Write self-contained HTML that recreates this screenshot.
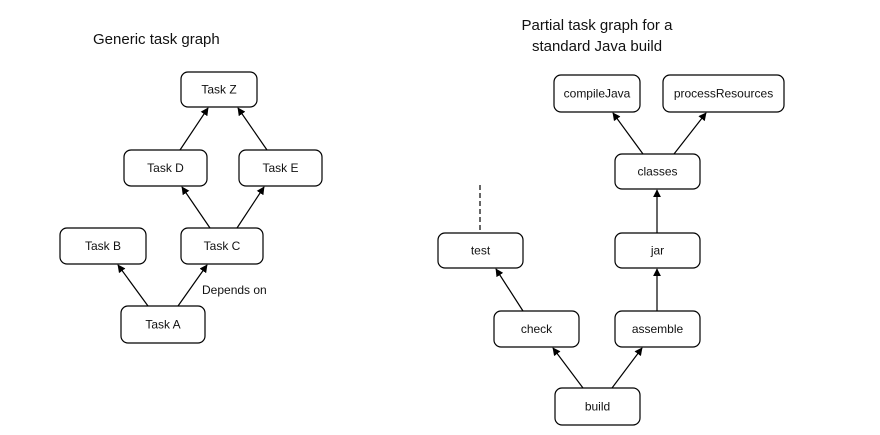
<!DOCTYPE html>
<html><head><meta charset="utf-8"><style>
body{margin:0;background:#fff;}
svg{display:block;font-family:"Liberation Sans",Arial,sans-serif;}
.n{fill:#fff;stroke:#000;stroke-width:1.2;}
.t{font-size:12px;text-anchor:middle;dominant-baseline:central;fill:#111;}
.h{font-size:15px;fill:#111;}
.e{stroke:#000;stroke-width:1.2;marker-end:url(#a);}
</style></head><body>
<svg width="880" height="435" viewBox="0 0 880 435">
<defs><marker id="a" viewBox="0 0 10 10" refX="9" refY="5" markerWidth="8" markerHeight="8" markerUnits="userSpaceOnUse" orient="auto"><path d="M0,0L10,5L0,10z" fill="#000"/></marker></defs>
<text class="h" x="93" y="44">Generic task graph</text>
<text class="h" x="597" y="30" text-anchor="middle">Partial task graph for a</text>
<text class="h" x="597" y="51" text-anchor="middle">standard Java build</text>

<rect class="n" x="181" y="72" width="76" height="35" rx="7"/><text class="t" x="219" y="89.5">Task Z</text>
<rect class="n" x="124" y="150" width="83" height="36" rx="7"/><text class="t" x="165.5" y="168">Task D</text>
<rect class="n" x="239" y="150" width="83" height="36" rx="7"/><text class="t" x="280.5" y="168">Task E</text>
<rect class="n" x="60" y="228" width="86" height="36" rx="7"/><text class="t" x="103" y="246">Task B</text>
<rect class="n" x="181" y="228" width="82" height="36" rx="7"/><text class="t" x="222" y="246">Task C</text>
<rect class="n" x="121" y="306" width="84" height="37" rx="7"/><text class="t" x="163" y="324.5">Task A</text>
<line class="e" x1="148" y1="306" x2="118" y2="265"/>
<line class="e" x1="178" y1="306" x2="207" y2="265"/>
<line class="e" x1="210" y1="228" x2="182" y2="187"/>
<line class="e" x1="237" y1="228" x2="264" y2="187"/>
<line class="e" x1="180" y1="150" x2="208" y2="108"/>
<line class="e" x1="267" y1="150" x2="238" y2="108"/>
<text x="202" y="294" font-size="12" fill="#111">Depends on</text>

<rect class="n" x="554" y="75" width="86" height="37" rx="7"/><text class="t" x="597" y="93.5">compileJava</text>
<rect class="n" x="663" y="75" width="121" height="37" rx="7"/><text class="t" x="723.5" y="93.5">processResources</text>
<rect class="n" x="615" y="154" width="85" height="35" rx="7"/><text class="t" x="657.5" y="171.5">classes</text>
<rect class="n" x="615" y="233" width="85" height="35" rx="7"/><text class="t" x="657.5" y="250.5">jar</text>
<rect class="n" x="438" y="233" width="85" height="35" rx="7"/><text class="t" x="480.5" y="250.5">test</text>
<rect class="n" x="494" y="311" width="85" height="36" rx="7"/><text class="t" x="536.5" y="329">check</text>
<rect class="n" x="615" y="311" width="85" height="36" rx="7"/><text class="t" x="657.5" y="329">assemble</text>
<rect class="n" x="555" y="388" width="85" height="37" rx="7"/><text class="t" x="597.5" y="406.5">build</text>
<line class="e" x1="643" y1="154" x2="613" y2="113"/>
<line class="e" x1="674" y1="154" x2="706" y2="113"/>
<line class="e" x1="657" y1="233" x2="657" y2="190"/>
<line class="e" x1="657" y1="311" x2="657" y2="269"/>
<line class="e" x1="523" y1="311" x2="496" y2="269"/>
<line class="e" x1="583" y1="388" x2="553" y2="348"/>
<line class="e" x1="612" y1="388" x2="642" y2="348"/>
<line x1="480" y1="185" x2="480" y2="233" stroke="#000" stroke-width="1.2" stroke-dasharray="5,3"/>
</svg>
</body></html>
